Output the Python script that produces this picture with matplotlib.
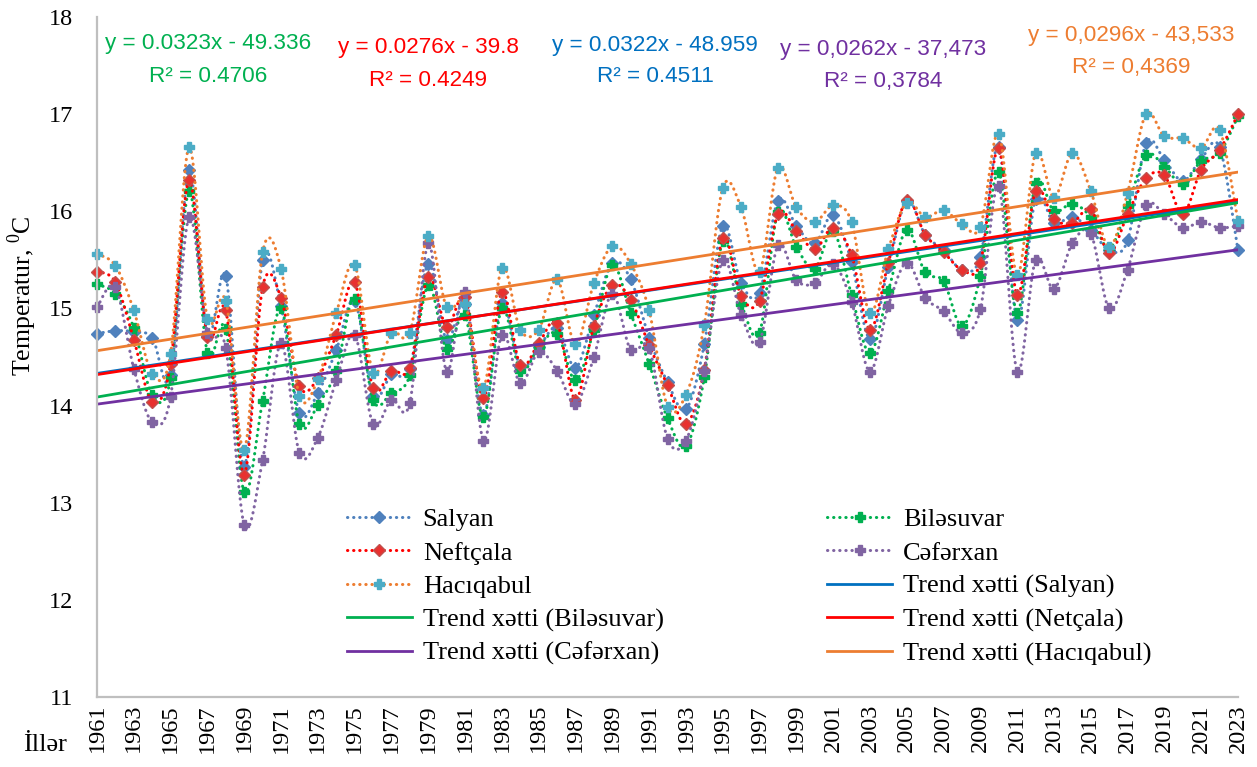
import numpy as np
import matplotlib.pyplot as plt
from matplotlib.lines import Line2D

years = np.arange(1961, 2024)

salyan = [14.74, 14.77, 14.76, 14.70, 14.31, 16.42, 14.72, 15.33, 13.37, 15.50,
          15.02, 13.92, 14.13, 14.57, 15.08, 14.10, 14.32, 14.38, 15.46, 14.67,
          15.05, 13.90, 15.06, 14.40, 14.60, 14.80, 14.39, 14.93, 15.47, 15.30,
          14.70, 14.24, 13.96, 14.63, 15.85, 15.26, 15.16, 16.11, 15.85, 15.67,
          15.96, 15.48, 14.69, 15.43, 16.11, 15.76, 15.60, 15.40, 15.53, 16.66,
          14.88, 16.13, 15.88, 15.94, 15.81, 15.60, 15.70, 16.70, 16.53, 16.31,
          16.54, 16.66, 15.60]
bilesuvar = [15.25, 15.15, 14.80, 14.11, 14.28, 16.21, 14.54, 14.79, 13.11, 14.05,
             15.00, 13.81, 14.01, 14.36, 15.10, 14.06, 14.13, 14.31, 15.24, 14.58,
             14.93, 13.88, 15.00, 14.36, 14.60, 14.74, 14.26, 14.78, 15.45, 14.95,
             14.43, 13.87, 13.58, 14.29, 15.69, 15.05, 14.75, 15.99, 15.63, 15.41,
             15.80, 15.14, 14.54, 15.18, 15.81, 15.37, 15.28, 14.82, 15.33, 16.40,
             14.95, 16.29, 16.00, 16.08, 15.94, 15.62, 16.05, 16.58, 16.46, 16.28,
             16.52, 16.60, 16.98]
neftcala = [15.38, 15.27, 14.68, 14.04, 14.43, 16.32, 14.71, 14.98, 13.29, 15.22,
            15.11, 14.20, 14.28, 14.73, 15.27, 14.18, 14.36, 14.39, 15.32, 14.81,
            15.12, 14.08, 15.17, 14.42, 14.64, 14.85, 14.06, 14.82, 15.24, 15.09,
            14.62, 14.21, 13.81, 14.37, 15.72, 15.13, 15.08, 15.97, 15.80, 15.61,
            15.83, 15.55, 14.78, 15.47, 16.12, 15.76, 15.58, 15.40, 15.47, 16.65,
            15.14, 16.21, 15.92, 15.88, 16.02, 15.57, 15.97, 16.34, 16.37, 15.97,
            16.43, 16.63, 17.00]
seferxan = [15.01, 15.22, 14.38, 13.83, 14.09, 15.94, 14.75, 14.59, 12.77, 13.44,
            14.64, 13.51, 13.67, 14.26, 14.73, 13.81, 14.06, 14.03, 15.67, 14.35,
            15.17, 13.64, 14.73, 14.23, 14.55, 14.36, 14.02, 14.50, 15.15, 14.57,
            14.59, 13.66, 13.64, 14.36, 15.50, 14.93, 14.65, 15.65, 15.29, 15.26,
            15.46, 15.07, 14.35, 15.03, 15.47, 15.11, 14.97, 14.75, 14.99, 16.26,
            14.35, 15.50, 15.20, 15.67, 15.77, 15.00, 15.40, 16.06, 15.97, 15.83,
            15.89, 15.83, 15.85]
haciqabul = [15.56, 15.44, 14.98, 14.33, 14.53, 16.66, 14.89, 15.08, 13.54, 15.58,
             15.41, 14.10, 14.27, 14.95, 15.45, 14.34, 14.75, 14.75, 15.75, 15.01,
             15.05, 14.18, 15.42, 14.78, 14.78, 15.30, 14.63, 15.26, 15.64, 15.46,
             14.98, 13.99, 14.11, 14.83, 16.24, 16.04, 15.38, 16.45, 16.04, 15.89,
             16.06, 15.89, 14.95, 15.61, 16.09, 15.94, 16.01, 15.87, 15.84, 16.80,
             15.34, 16.60, 16.14, 16.60, 16.21, 15.63, 16.19, 17.00, 16.77, 16.75,
             16.65, 16.84, 15.90]

equations = [("y = 0.0323x - 49.336", "R² = 0.4706", "#00B050", 208, 44, 76),
             ("y = 0.0276x - 39.8", "R² = 0.4249", "#FF0000", 428, 48, 80),
             ("y = 0.0322x - 48.959", "R² = 0.4511", "#0070C0", 655, 45, 77),
             ("y = 0,0262x - 37,473", "R² = 0,3784", "#7030A0", 883, 50, 82),
             ("y = 0,0296x - 43,533", "R² = 0,4369", "#ED7D31", 1131, 36, 67)]

W, H = 1257, 767
SERIF = "Liberation Serif"
plt.rcParams["mathtext.fontset"] = "custom"
plt.rcParams["mathtext.rm"] = SERIF


def smooth(x, y, n=12):
    # Excel style smoothed line: bezier with catmull-rom control points
    x = np.asarray(x, float)
    y = np.asarray(y, float)
    px = np.concatenate([[x[0]], x, [x[-1]]])
    py = np.concatenate([[y[0]], y, [y[-1]]])
    t = np.linspace(0, 1, n, endpoint=False)[:, None]
    xs, ys = [], []
    for i in range(1, len(x)):
        p0 = np.array([px[i], py[i]])
        p3 = np.array([px[i + 1], py[i + 1]])
        c1 = p0 + (p3 - np.array([px[i - 1], py[i - 1]])) / 6
        c2 = p3 - (np.array([px[i + 2], py[i + 2]]) - p0) / 6
        b = ((1 - t) ** 3) * p0 + 3 * ((1 - t) ** 2) * t * c1 + 3 * (1 - t) * t ** 2 * c2 + t ** 3 * p3
        xs.append(b[:, 0])
        ys.append(b[:, 1])
    xs.append([x[-1]])
    ys.append([y[-1]])
    return np.concatenate(xs), np.concatenate(ys)


fig = plt.figure(figsize=(W / 100, H / 100), dpi=100)
ax = fig.add_axes([97 / W, 1 - 697 / H, (1238 - 97) / W, 680 / H])

dots = dict(linestyle=(0, (0.1, 1.9)), dash_capstyle="round", linewidth=2.2)

series = [("Salyan", salyan, "#4F81BD", "D", "#4F81BD", "#4F81BD", 6),
          ("Biləsuvar", bilesuvar, "#00B050", "P", "#00B050", "#00B050", 7),
          ("Neftçala", neftcala, "#FF0000", "D", "#E8312F", "#C0504D", 6),
          ("Cəfərxan", seferxan, "#8064A2", "P", "#8064A2", "#8064A2", 7),
          ("Hacıqabul", haciqabul, "#ED7D31", "P", "#4BACC6", "#4BACC6", 7)]

handles = {}
for name, vals, lc, mk, mfc, mec, ms in series:
    sx, sy = smooth(years, vals)
    ax.plot(sx, sy, color=lc, clip_on=False, **dots)
    ax.plot(years, vals, linestyle="none", marker=mk, ms=ms, mfc=mfc, mec=mec,
            mew=1, clip_on=False)
    handles[name] = Line2D([], [], color=lc, marker=mk, ms=ms, mfc=mfc, mec=mec, **dots)

trends = [("Trend xətti (Salyan)", salyan, "#0070C0"),
          ("Trend xətti (Biləsuvar)", bilesuvar, "#00B050"),
          ("Trend xətti (Netçala)", neftcala, "#FF0000"),
          ("Trend xətti (Cəfərxan)", seferxan, "#7030A0"),
          ("Trend xətti (Hacıqabul)", haciqabul, "#ED7D31")]
for name, vals, c in trends:
    k, b = np.polyfit(years, vals, 1)
    ax.plot(years, k * years + b, color=c, linewidth=2)
    handles[name] = Line2D([], [], color=c, linewidth=2)

ax.set_xlim(1961, 2023)
ax.set_ylim(11, 18)
ax.set_xticks(years[::2])
ax.set_xticklabels([str(y) for y in years[::2]], rotation=90, family=SERIF, fontsize=17.5)
ax.set_yticks(range(11, 19))
ax.set_yticklabels([str(v) for v in range(11, 19)], family=SERIF, fontsize=17.5)
ax.tick_params(axis="y", length=0, pad=17)
ax.tick_params(axis="x", length=0, pad=5)
for s in ["top", "right"]:
    ax.spines[s].set_visible(False)
for s in ["left", "bottom"]:
    ax.spines[s].set_color("#BFBFBF")
    ax.spines[s].set_linewidth(1.6)

order = ["Salyan", "Neftçala", "Hacıqabul", "Trend xətti (Biləsuvar)", "Trend xətti (Cəfərxan)",
         "Biləsuvar", "Cəfərxan", "Trend xətti (Salyan)", "Trend xətti (Netçala)",
         "Trend xətti (Hacıqabul)"]
fig.legend([handles[n] for n in order], order, ncol=2, frameon=False,
           loc="upper left", bbox_to_anchor=(347 / W, 1 - 508 / H),
           prop={"family": SERIF, "size": 19}, handlelength=2.45, handletextpad=0.42,
           columnspacing=6.2, labelspacing=0.37, borderpad=0, borderaxespad=0)

for eq, r2, c, x, y1, y2 in equations:
    fig.text(x / W, 1 - y1 / H, eq, color=c, ha="center", va="center",
             family="Liberation Sans", fontsize=16.2)
    fig.text(x / W, 1 - y2 / H, r2, color=c, ha="center", va="center",
             family="Liberation Sans", fontsize=16.2)

fig.text(22 / W, 1 - 296 / H, r"Temperatur, $^{0}$C", rotation=90, ha="center", va="center",
         family=SERIF, fontsize=18.5)
fig.text(45 / W, 1 - 745 / H, "İllər", ha="center", va="center", family=SERIF, fontsize=19)

fig.savefig("out.png", dpi=100)
